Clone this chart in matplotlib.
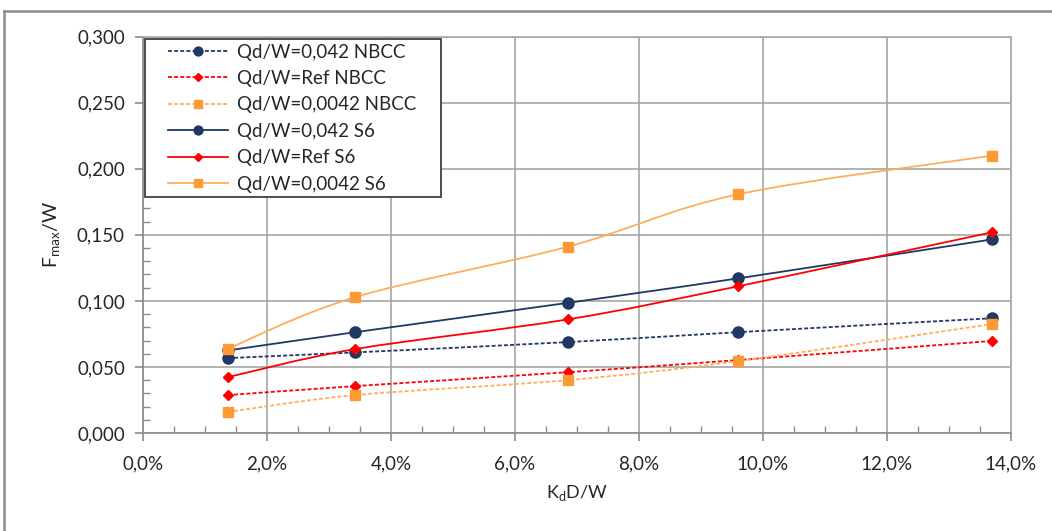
import matplotlib
matplotlib.use("Agg")
import matplotlib.pyplot as plt
import numpy as np
from matplotlib.path import Path
from matplotlib.patches import PathPatch
from matplotlib.lines import Line2D
from matplotlib.legend_handler import HandlerLine2D
from matplotlib.ticker import FuncFormatter, MultipleLocator

plt.rcParams['font.family'] = ['Lato', 'DejaVu Sans']

# data
kd_w = [1.37, 3.42, 6.85, 9.59, 13.70]   # K_dD/W in %
qd042_nbcc = [0.0567, 0.0610, 0.0688, 0.0763, 0.0869]
ref_nbcc = [0.0287, 0.0355, 0.0460, 0.0552, 0.0697]
qd0042_nbcc = [0.0159, 0.0287, 0.0400, 0.0544, 0.0825]
qd042_s6 = [0.0625, 0.0763, 0.0985, 0.1170, 0.1466]
ref_s6 = [0.0423, 0.0635, 0.0860, 0.1110, 0.1520]
qd0042_s6 = [0.0638, 0.1028, 0.1410, 0.1806, 0.2100]

labels = ['Qd/W=0,042 NBCC', 'Qd/W=Ref NBCC', 'Qd/W=0,0042 NBCC',
          'Qd/W=0,042 S6', 'Qd/W=Ref S6', 'Qd/W=0,0042 S6']

NAVY = '#1f3864'
RED = '#ff0000'
ORANGE_M = '#ff9933'
ORANGE_L = '#ffad5c'
GRID = '#a6a6a6'
AXC = '#8c8c8c'
TXT = '#262626'
DOTTED = (0, (2.2, 1.2))


def smooth_path(x, y):
    """ Excel-like smoothed line as cubic bezier segments """
    pts = np.column_stack([x, y])
    n = len(pts)
    verts = [pts[0]]
    codes = [Path.MOVETO]
    for i in range(n - 1):
        p0 = pts[max(i - 1, 0)]
        p1 = pts[i]
        p2 = pts[i + 1]
        p3 = pts[min(i + 2, n - 1)]
        c1 = p1 + (p2 - p0) / 6.0
        c2 = p2 - (p3 - p1) / 6.0
        verts += [c1, c2, p2]
        codes += [Path.CURVE4] * 3
    return Path(verts, codes)


series = [
    (qd042_nbcc, NAVY, NAVY, DOTTED, 'o', 8),
    (ref_nbcc, RED, RED, DOTTED, 'D', 5.5),
    (qd0042_nbcc, ORANGE_L, ORANGE_M, DOTTED, 's', 7.5),
    (qd042_s6, NAVY, NAVY, '-', 'o', 8),
    (ref_s6, RED, RED, '-', 'D', 5.5),
    (qd0042_s6, ORANGE_L, ORANGE_M, '-', 's', 7.5),
]

fig = plt.figure(figsize=(10.52, 5.31), dpi=100)
ax = fig.add_axes([143 / 1052, 1 - 433 / 531, (1011 - 143) / 1052, (433 - 36.7) / 531])

handles = []
for vals, lc, mc, ls, mk, ms in series:
    patch = PathPatch(smooth_path(kd_w, vals), fill=False, edgecolor=lc,
                      linestyle=ls, linewidth=1.3, zorder=3)
    ax.add_patch(patch)
    ax.plot(kd_w, vals, linestyle='none', marker=mk, markersize=ms,
            color=mc, markeredgecolor=mc, zorder=4)
    handles.append(Line2D([], [], color=lc, linestyle=ls, linewidth=1.3,
                          marker=mk, markersize=ms * 0.8, markerfacecolor=mc,
                          markeredgecolor=mc))

ax.set_xlim(0, 14)
ax.set_ylim(0, 0.3)
ax.xaxis.set_major_locator(MultipleLocator(2))
ax.xaxis.set_minor_locator(MultipleLocator(0.5))
ax.yaxis.set_major_locator(MultipleLocator(0.05))
ax.yaxis.set_minor_locator(MultipleLocator(0.01))
ax.xaxis.set_major_formatter(FuncFormatter(lambda v, p: f'{v:.1f}%'.replace('.', ',')))
ax.yaxis.set_major_formatter(FuncFormatter(lambda v, p: f'{v:.3f}'.replace('.', ',')))

ax.grid(True, which='major', color=GRID, linewidth=1.2, zorder=0)
ax.set_axisbelow(True)
for s in ax.spines.values():
    s.set_color(GRID)
    s.set_linewidth(1.2)
ax.spines['left'].set_color(AXC)
ax.spines['bottom'].set_color(AXC)

ax.tick_params(which='major', direction='out', length=6, width=1.2, color=AXC,
               labelsize=13.5, labelcolor=TXT, pad=7)
ax.tick_params(which='minor', direction='in', length=5, width=1.0, color=AXC)
ax.tick_params(axis='x', pad=10)

ax.set_xlabel('K$_\\mathregular{d}$D/W', fontsize=13, color=TXT)
ax.set_ylabel('F$_\\mathregular{max}$/W', fontsize=14, color=TXT)
ax.xaxis.set_label_coords(0.5, (433 - 483) / 396.3)
ax.yaxis.set_label_coords((63 - 143) / 868, 0.5)

# legend: line shifted right inside handle box, extra room on the right
leg_w = 300 / 868
leg = ax.legend(handles, labels, loc='upper left', bbox_to_anchor=(0, 1.0, leg_w, 0),
                mode='expand', borderaxespad=0.12, fontsize=13.5, frameon=True,
                fancybox=False, handlelength=4.16, handletextpad=0.48,
                labelspacing=0.5, borderpad=0.25,
                handler_map={Line2D: HandlerLine2D(xpad=0.96)})
leg.get_frame().set_edgecolor('#404040')
leg.get_frame().set_linewidth(1.3)
leg.get_frame().set_alpha(1)
for t in leg.get_texts():
    t.set_color(TXT)

# outer chart frame (left and top edges)
fig.add_artist(Line2D([4 / 1052, 4 / 1052], [0, 1 - 11 / 531], color=AXC,
                      linewidth=1.8, transform=fig.transFigure))
fig.add_artist(Line2D([4 / 1052, 1], [1 - 11 / 531, 1 - 11 / 531], color=AXC,
                      linewidth=1.8, transform=fig.transFigure))

fig.savefig('out.png', dpi=100)
